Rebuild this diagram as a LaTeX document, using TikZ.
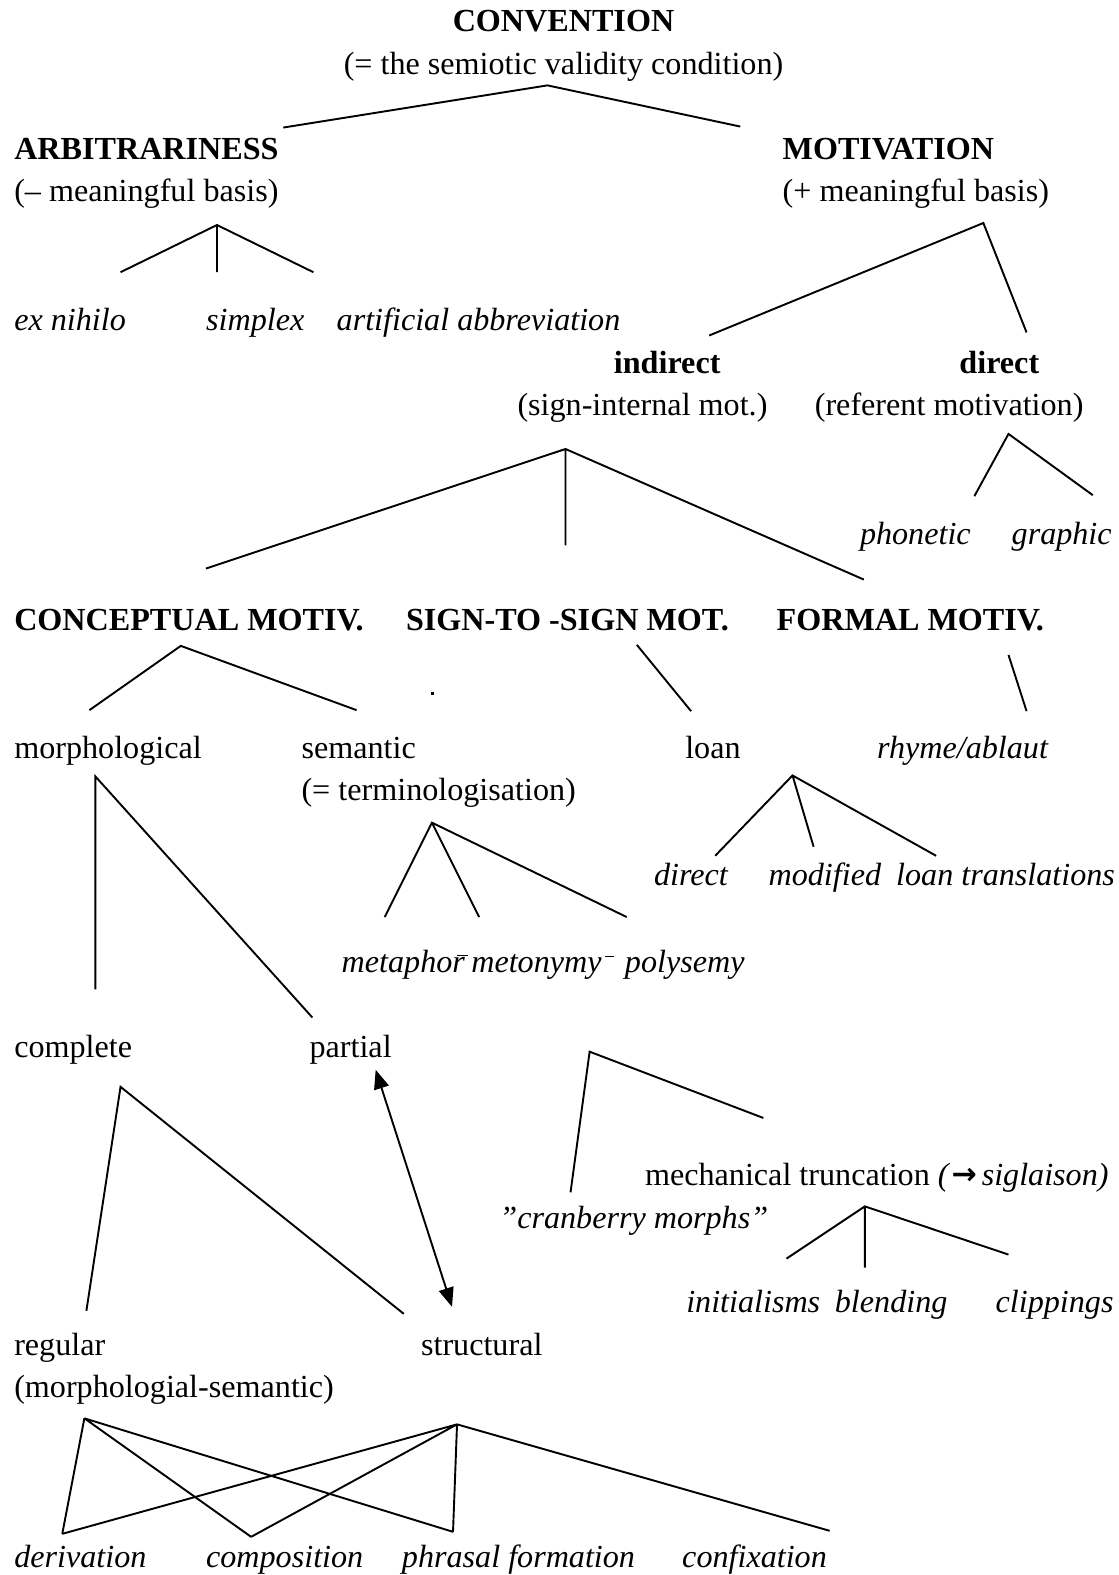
\documentclass[tikz,border=0pt]{standalone}
\usepackage{fontspec}
\setmainfont{Liberation Serif}
\newfontfamily\arrowfont{DejaVu Sans}
\usetikzlibrary{arrows.meta}
\begin{document}
\begin{tikzpicture}[x=1pt,y=-1pt,
  txt/.style={anchor=base west,inner sep=0pt,font=\fontsize{32}{38}\selectfont},
  hd/.style={txt,font=\fontsize{32}{38}\selectfont\bfseries},
  it/.style={txt,font=\fontsize{32}{38}\selectfont\itshape},
  branch/.style={line width=1.9pt},
  twoway/.style={line width=1.9pt,{Triangle[length=19pt,width=15pt]}-{Triangle[length=19pt,width=15pt]}},
]
\useasboundingbox (0,0) rectangle (1114,1568);

% ---- labels ----
\node[hd,anchor=base] (conv) at (561,31) {CONVENTION};
\node[txt,anchor=base] (convsub) at (561,74) {(= the semiotic validity condition)};
\node[hd] (arb) at (14,159) {ARBITRARINESS};
\node[txt] (arbsub) at (14,201) {(– meaningful basis)};
\node[hd] (mot) at (779,159) {MOTIVATION};
\node[txt] (motsub) at (779,201) {(+ meaningful basis)};
\node[it] (exn) at (14,329) {ex nihilo};
\node[it] (simp) at (205,329) {simplex};
\node[it] (artab) at (335,329) {artificial abbreviation};
\node[hd] (ind) at (611,372) {indirect};
\node[txt] (indsub) at (515,414) {(sign-internal mot.)};
\node[hd] (dir) at (955,372) {direct};
\node[txt] (dirsub) at (811,414) {(referent motivation)};
\node[it] (phon) at (856,542) {phonetic};
\node[it] (graph) at (1007,542) {graphic};
\node[hd] (concm) at (14,628) {CONCEPTUAL MOTIV.};
\node[hd] (stsm) at (404,628) {SIGN-TO -SIGN MOT.};
\node[hd] (formm) at (773,628) {FORMAL MOTIV.};
\node[txt] (morph) at (14,755) {morphological};
\node[txt] (sem) at (300,755) {semantic};
\node[txt] (semsub) at (300,797) {(= terminologisation)};
\node[txt] (loan) at (682,755) {loan};
\node[it] (rhyme) at (873,755) {rhyme/ablaut};
\node[it] (ldir) at (651,882) {direct};
\node[it] (lmod) at (765,882) {modified};
\node[it] (ltrans) at (892,882) {loan translations};
\node[it] (metaph) at (340,968) {metaphor};
\node[it] (meton) at (469,968) {metonymy};
\node[it] (poly) at (622,968) {polysemy};
\node[txt] (compl) at (14,1053) {complete};
\node[txt] (part) at (308,1053) {partial};
\node[txt] (mech) at (642,1180) {mechanical truncation \textit{(\hspace{3pt}\raisebox{1pt}{\arrowfont\bfseries\fontsize{30}{32}\selectfont →}\hspace{5pt}siglaison)}};
\node[it] (cran) at (497,1223) {”cranberry morphs”};
\node[it] (initl) at (683,1307) {initialisms};
\node[it] (blend) at (831,1307) {blending};
\node[it] (clip) at (991,1307) {clippings};
\node[txt] (reg) at (14,1349) {regular};
\node[txt] (regsub) at (14,1391) {(morphologial-semantic)};
\node[txt] (struc) at (419,1349) {structural};
\node[it] (deriv) at (14,1561) {derivation};
\node[it] (compo) at (205,1561) {composition};
\node[it] (phras) at (400,1561) {phrasal formation};
\node[it] (confx) at (679,1561) {confixation};

% ---- branch points ----
\coordinate (c0) at (545,85);  \coordinate (c0a) at (282,127); \coordinate (c0b) at (737,126);
\coordinate (a0) at (216,224); \coordinate (a1) at (120,271); \coordinate (a2) at (216,271); \coordinate (a3) at (312,271);
\coordinate (m0) at (979,222); \coordinate (m1) at (706,334); \coordinate (m2) at (1022,331);
\coordinate (d0) at (1004,432); \coordinate (d1) at (970,494); \coordinate (d2) at (1088,493);
\coordinate (i0) at (563,447); \coordinate (i1) at (205,566); \coordinate (i2) at (563,543); \coordinate (i3) at (860,577);
\coordinate (k0) at (180,643); \coordinate (k1) at (89,707); \coordinate (k2) at (355,707);
\coordinate (s0) at (634,642); \coordinate (s1) at (688,708);
\coordinate (f0) at (1004,652); \coordinate (f1) at (1022,708);
\coordinate (e0) at (430,819); \coordinate (e1) at (383,913); \coordinate (e2) at (477,913); \coordinate (e3) at (624,913);
\coordinate (l0) at (789,772); \coordinate (l1) at (712,852); \coordinate (l2) at (810,843); \coordinate (l3) at (932,852);
\coordinate (p0) at (95,773); \coordinate (p1) at (95,985); \coordinate (p2) at (311,1013);
\coordinate (r0) at (587,1047); \coordinate (r1) at (568,1187); \coordinate (r2) at (760,1113);
\coordinate (t0) at (861,1201); \coordinate (t1) at (783,1253); \coordinate (t2) at (861,1262); \coordinate (t3) at (1004,1249);
\coordinate (q0) at (120,1082); \coordinate (q1) at (86,1305); \coordinate (q2) at (402,1308);
\coordinate (w1) at (374,1065); \coordinate (w2) at (450,1301);
\coordinate (g0) at (84,1412); \coordinate (h0) at (455,1418);
\coordinate (b1) at (62,1527); \coordinate (b2) at (250,1530); \coordinate (b3) at (451,1525); \coordinate (b4) at (826,1524);

% ---- branches ----
\draw[branch] (c0a) -- (c0) -- (c0b);
\draw[branch] (a1) -- (a0) -- (a3) (a0) -- (a2);
\draw[branch] (m1) -- (m0) -- (m2);
\draw[branch] (d1) -- (d0) -- (d2);
\draw[branch] (i1) -- (i0) -- (i3) (i0) -- (i2);
\draw[branch] (k1) -- (k0) -- (k2);
\draw[branch] (s0) -- (s1);
\draw[branch] (f0) -- (f1);
\draw[branch] (e1) -- (e0) -- (e3) (e0) -- (e2);
\draw[branch] (l1) -- (l0) -- (l3) (l0) -- (l2);
\draw[branch] (p1) -- (p0) -- (p2);
\draw[branch] (r1) -- (r0) -- (r2);
\draw[branch] (t1) -- (t0) -- (t3) (t0) -- (t2);
\draw[branch] (q1) -- (q0) -- (q2);
\draw[branch] (g0) -- (b1) (g0) -- (b2) (g0) -- (b3);
\draw[branch] (h0) -- (b1) (h0) -- (b2) (h0) -- (b3) (h0) -- (b4);
\draw[twoway] (w1) -- (w2);

% ---- stray marks ----
\fill (429,689) rectangle (432,692);
\draw[line width=1.4pt] ([xshift=-8pt,yshift=17pt]metaph.base east) -- ([xshift=3pt,yshift=17pt]metaph.base east);
\draw[line width=1.4pt] ([xshift=3pt,yshift=16pt]meton.base east) -- ([xshift=12pt,yshift=16pt]meton.base east);
\end{tikzpicture}
\end{document}
